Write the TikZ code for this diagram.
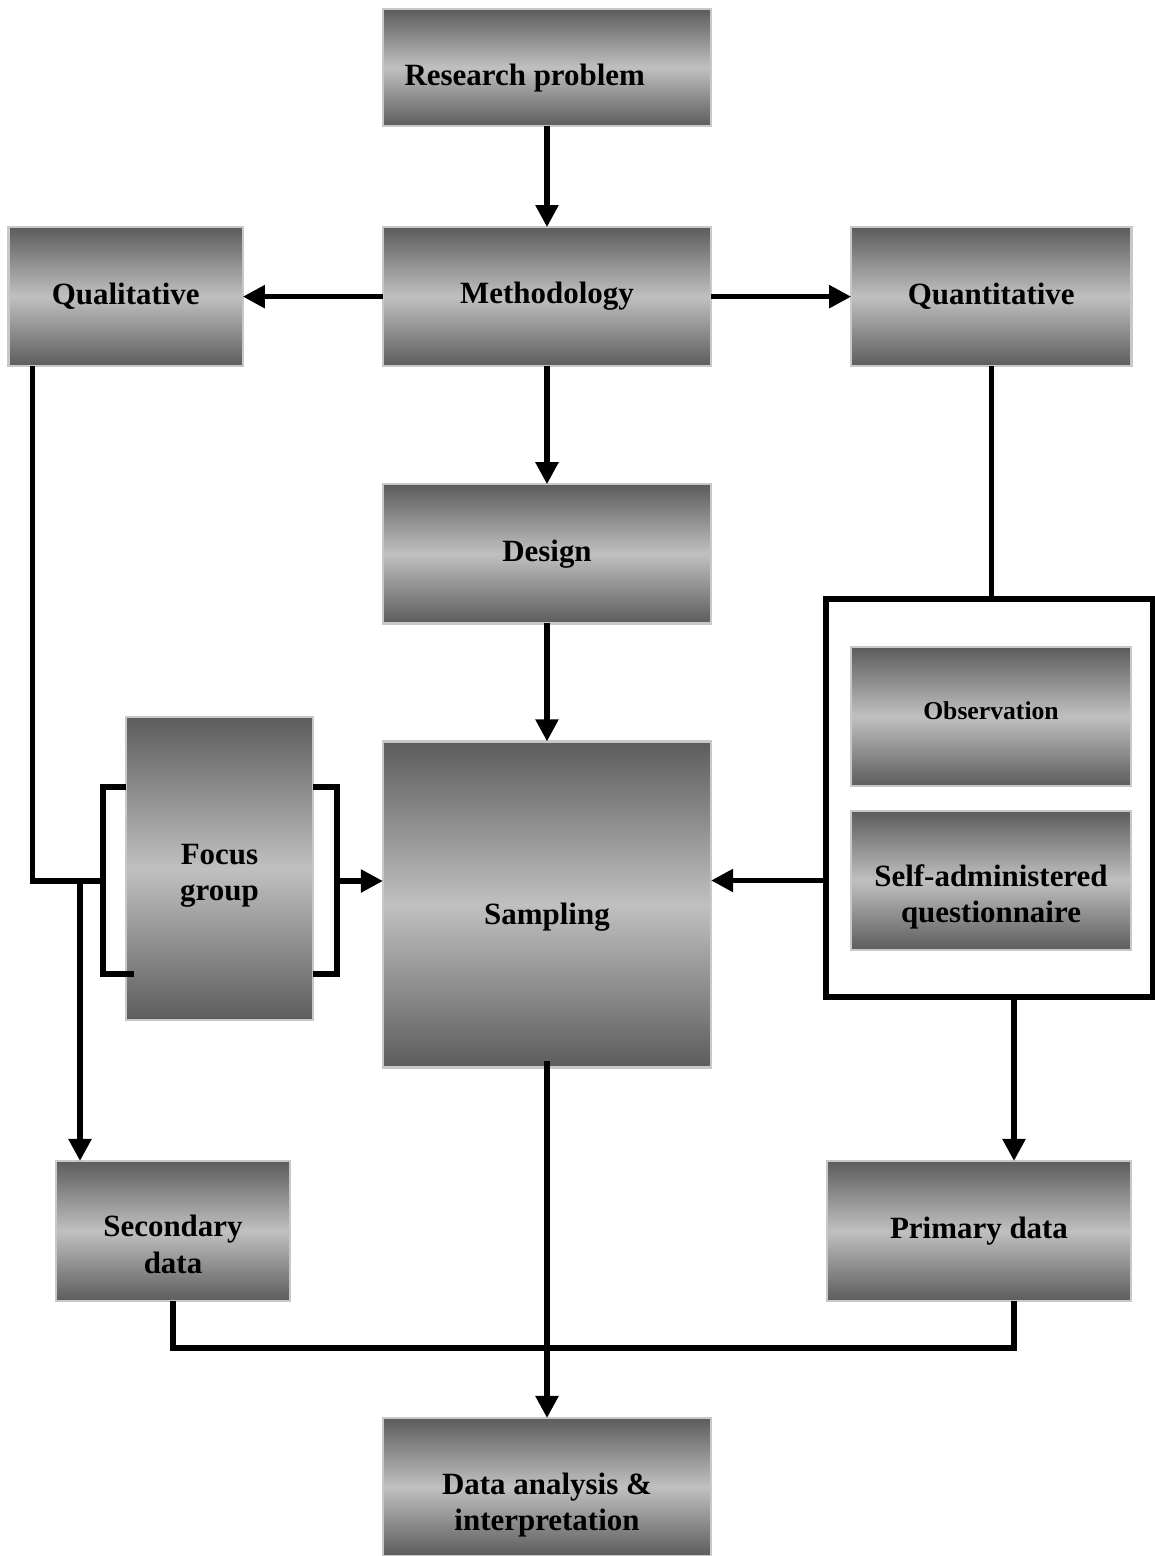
\documentclass[tikz,border=0pt]{standalone}
\usepackage{fontspec}
\setmainfont{Liberation Serif}
\usetikzlibrary{positioning,calc,arrows.meta}
\definecolor{boxdark}{RGB}{92,92,92}
\definecolor{boxlight}{RGB}{192,192,192}
\definecolor{boxedge}{RGB}{200,200,200}
\tikzset{
  % arrow tip for all connectors
  >={Triangle[length=0.22cm,width=0.22cm]},
  % shaded boxes and their texts
  txt/.style={align=center, inner sep=0pt, font=\fontsize{8.8}{10.3}\selectfont\bfseries},
  block/.style={txt, rectangle, draw=boxedge, line width=0.7pt, outer sep=0pt, top color=boxdark, bottom color=boxdark, middle color=boxlight},
  conn/.style={draw, line width=1.5pt},
  line/.style={conn, ->}
}

\begin{document}
\begin{tikzpicture}[x=0.01cm, y=-0.01cm]
    \useasboundingbox (0,0) rectangle (1155,1556);

    % Place nodes
    \node [block, minimum width=3.28cm, minimum height=1.17cm] (research) at (547,67.5) {};
    \node [block, below=1.01cm of research, minimum width=3.28cm, minimum height=1.39cm] (method) {Methodology};
    \node [block, left=1.40cm of method, minimum width=2.34cm, minimum height=1.39cm] (qual) {Qualitative};
    \node [block, right=1.40cm of method, minimum width=2.80cm, minimum height=1.39cm] (quant) {Quantitative};
    \node [block, below=1.18cm of method, minimum width=3.28cm, minimum height=1.39cm] (design) {Design};
    \node [block, below=1.18cm of design, minimum width=3.28cm, minimum height=3.26cm] (sampling) {};
    \node [block, minimum width=1.87cm, minimum height=3.03cm] (focus) at (219.5,868.5) {};
    \node [draw, line width=1.5pt, minimum width=3.27cm, minimum height=3.98cm, inner sep=0pt, outer sep=0pt] (instr) at (989.5,798) {};
    \node [block, minimum width=2.80cm, minimum height=1.39cm] (obs) at (991,716.5) {};
    \node [block, minimum width=2.80cm, minimum height=1.39cm] (selfq) at (991,880.5) {};
    \node [block, minimum width=2.34cm, minimum height=1.40cm] (secondary) at (173,1231) {};
    \node [block, minimum width=3.04cm, minimum height=1.40cm] (primary) at (979,1231) {Primary data};
    \node [block, minimum width=3.28cm, minimum height=1.38cm] (analysis) at (547,1487) {};

    % Texts set off the box centre
    \node [txt, anchor=west] (research-t) at ($(research.west)+(21,11)$) {Research problem};
    \node [txt] (sampling-t) at ($(sampling)+(0,12.5)$) {Sampling};
    \node [txt] (focus-t) at ($(focus)+(0,7)$) {Focus\\group};
    \node [txt, font=\fontsize{7.3}{8.5}\selectfont\bfseries] (obs-t) at ($(obs)+(0,-6)$) {Observation};
    \node [txt] (selfq-t) at ($(selfq)+(0,16)$) {Self-administered\\questionnaire};
    \node [txt] (secondary-t) at ($(secondary)+(0,13.5)$) {Secondary\\data};
    \node [txt] (analysis-t) at ($(analysis)+(0,18)$) {Data analysis \&\\interpretation};

    % Brackets round the focus group
    \coordinate (brL) at (103,881);
    \coordinate (brR) at (337,881);
    \coordinate (split) at (80,881);
    \draw [conn] (126,787) -- (103,787) -- (103,974) -- (134,974);
    \draw [conn] (313,787) -- (337,787) -- (337,974) -- (313,974);

    % Draw edges
    \path [line] (research) -- (method);
    \path [line] (method) -- (qual);
    \path [line] (method) -- (quant);
    \path [line] (method) -- (design);
    \path [line] (design) -- (sampling);
    \path [conn] ($(qual.south)+(-93,0)$) |- (brL);
    \path [line] (split) -- (split |- secondary.north);
    \path [line] (brR) -- (brR -| sampling.west);
    \path [conn] (quant.south) -- (quant.south |- instr.north);
    \path [line] (instr.west |- selfq.west) -- (sampling.east |- selfq.west);
    \path [line] ($(instr.south)+(24.5,0)$) -- ($(primary.north)+(35,0)$);
    \path [conn] (secondary.south) -- ++(0,47) -| ($(primary.south)+(35,0)$);
    \path [line] ([yshift=0.07cm]sampling.south) -- (analysis.north);

\end{tikzpicture}
\end{document}
